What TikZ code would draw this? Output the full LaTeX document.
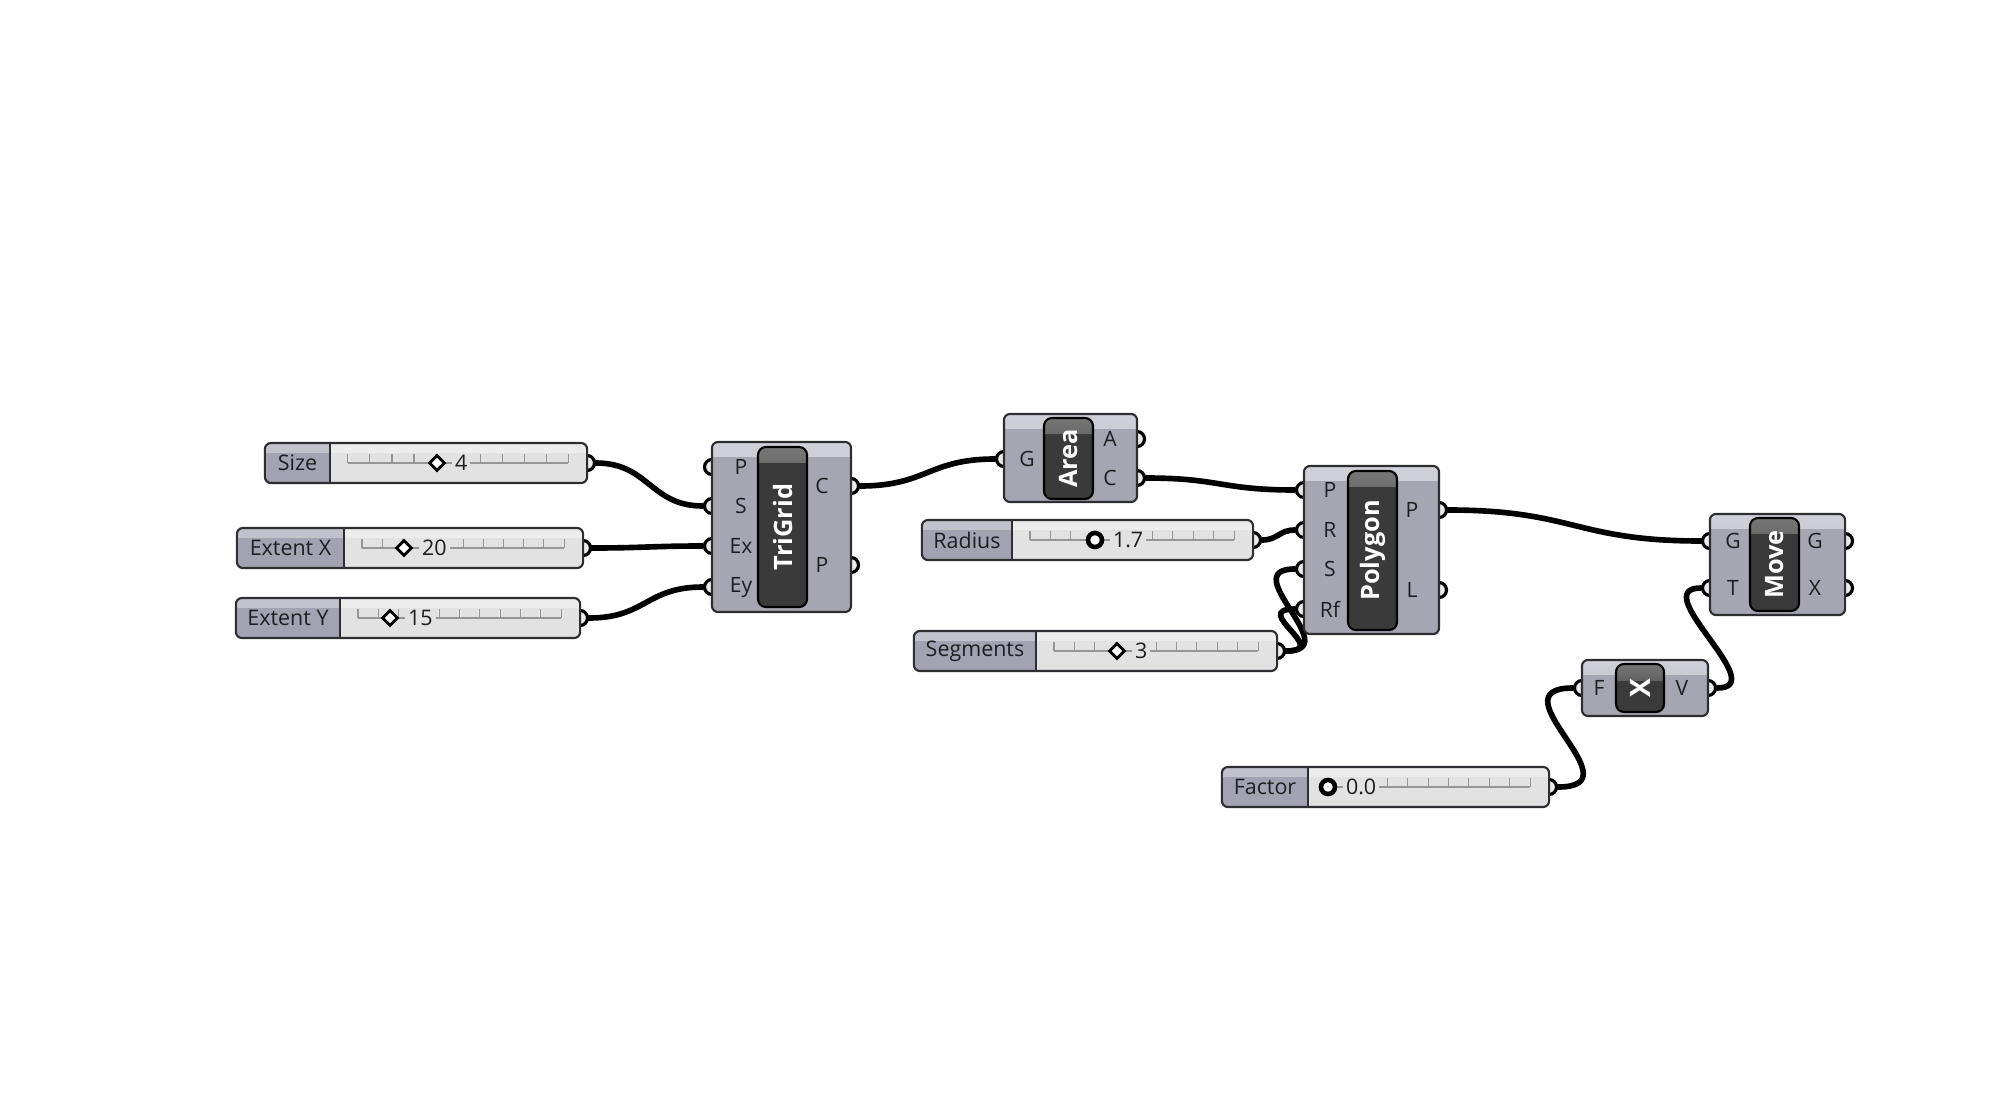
\documentclass[tikz,border=0pt]{standalone}
\usepackage{fontspec}
\setmainfont{Open Sans}
\usepackage{tikz}
\usetikzlibrary{shapes.geometric, positioning, backgrounds, calc}
\definecolor{lineC}{RGB}{45,45,50}
\definecolor{bodyC}{RGB}{166,166,178}
\definecolor{bandC}{RGB}{208,208,216}
\definecolor{coreC}{RGB}{58,58,58}
\definecolor{coreHi}{RGB}{118,118,118}
\definecolor{labC}{RGB}{162,162,178}
\definecolor{trackC}{RGB}{226,226,226}
\definecolor{tickC}{RGB}{150,150,150}
\definecolor{portC}{RGB}{236,236,236}
\definecolor{textC}{RGB}{30,30,34}
\tikzset{
    comp/.style={rectangle, rounded corners=0.6mm, draw=lineC, line width=0.6pt,
                 fill=bodyC, inner sep=0pt,
                 path picture={\shade[sharp corners, top color=bandC, bottom color=bandC!60!bodyC]
                   (path picture bounding box.north west) rectangle ([yshift=-1.5mm]path picture bounding box.north east);}},
    core/.style={rectangle, rounded corners=0.8mm, draw=black, line width=0.6pt,
                 fill=coreC, inner sep=0pt,
                 path picture={\shade[sharp corners, top color=coreHi, bottom color=coreC]
                   (path picture bounding box.north west) rectangle ([yshift=-1.6mm]path picture bounding box.north east);}},
    corelab/.style={text=white, font=\fontsize{7.2}{8}\selectfont\bfseries, rotate=90, inner sep=0pt},
    plab/.style={text=textC, font=\fontsize{6}{7}\selectfont, inner sep=0pt},
    port/.style={circle, draw=black, line width=0.9pt, fill=portC, minimum size=1.5mm, inner sep=0pt},
    slider/.style={rectangle, rounded corners=0.6mm, draw=lineC, line width=0.6pt,
                 fill=trackC, minimum height=4mm, inner sep=0pt,
                 path picture={
                   \fill[sharp corners, labC] (path picture bounding box.south west) rectangle ([xshift=#1]path picture bounding box.north west);
                   \fill[sharp corners, white, opacity=0.35] (path picture bounding box.north west) rectangle ([yshift=-1mm]path picture bounding box.north east);
                   \draw[sharp corners, lineC, line width=0.6pt] ([xshift=#1]path picture bounding box.south west) -- ([xshift=#1]path picture bounding box.north west);
                   \draw[sharp corners, tickC, line width=0.3pt] ([xshift=#1+1.8mm]path picture bounding box.west) -- ([xshift=-1.9mm]path picture bounding box.east);
                   \foreach \k in {0,...,10}
                     \draw[sharp corners, tickC, line width=0.3pt] ($([xshift=#1+1.8mm]path picture bounding box.west)!\k/10!([xshift=-1.9mm]path picture bounding box.east)$) -- ++(0,0.9mm);
                 }},
    slab/.style={text=textC, font=\fontsize{6.1}{7}\selectfont, inner sep=0pt},
    sval/.style={text=textC, font=\fontsize{6.1}{7}\selectfont, fill=trackC, inner xsep=0.3mm, inner ysep=0.1mm},
    knob/.style={diamond, draw=black, line width=0.8pt, fill=white, minimum size=1.6mm, inner sep=0pt},
    ring/.style={circle, draw=black, line width=1.3pt, fill=white, minimum size=1.4mm, inner sep=0pt},
    wire/.style={line width=1.6pt, draw=black, line cap=round}
}

\begin{document}
\begin{tikzpicture}[x=0.01cm, y=-0.01cm]
\useasboundingbox (0,0) rectangle (1996,1118);

% number sliders
\node[port] (sizeO)   at (587,463)  {};
\node[port] (extXO)   at (583,548)  {};
\node[port] (extYO)   at (580,618)  {};
\node[port] (radiusO) at (1253,540) {};
\node[port] (segsO)   at (1277,651) {};
\node[port] (factorO) at (1549,787) {};

\node[slider=6.5mm,  minimum width=32.2mm] (size)   at (426,463)    {};
\node[slider=10.7mm, minimum width=34.6mm] (extX)   at (410,548)    {};
\node[slider=10.4mm, minimum width=34.4mm] (extY)   at (408,618)    {};
\node[slider=9mm,    minimum width=33.1mm] (radius) at (1087.5,540) {};
\node[slider=12.2mm, minimum width=36.3mm] (segs)   at (1095.5,651) {};
\node[slider=8.6mm,  minimum width=32.7mm] (factor) at (1385.5,787) {};

\node[slab] (sizeL)   at (297.5,463) {Size};
\node[slab] (extXL)   at (290.5,548) {Extent X};
\node[slab] (extYL)   at (288,618)   {Extent Y};
\node[slab] (radiusL) at (967,540)   {Radius};
\node[slab] (segsL)   at (975,651)   {Segments};
\node[slab] (factorL) at (1265,787)  {Factor};

\node[knob] (sizeK)   at (437,463)  {};
\node[knob] (extXK)   at (404,548)  {};
\node[knob] (extYK)   at (390,618)  {};
\node[ring] (radiusK) at (1095,540) {};
\node[knob] (segsK)   at (1117,651) {};
\node[ring] (factorK) at (1328,787) {};

\node[sval, right=0.5mm of sizeK]   (sizeV)   {4};
\node[sval, right=0.5mm of extXK]   (extXV)   {20};
\node[sval, right=0.5mm of extYK]   (extYV)   {15};
\node[sval, right=0.5mm of radiusK] (radiusV) {1.7};
\node[sval, right=0.5mm of segsK]   (segsV)   {3};
\node[sval, right=0.5mm of factorK] (factorV) {0.0};

% TriGrid
\foreach \n/\y in {P/467, S/506, Ex/546, Ey/587} \node[port] (tg\n) at (712,\y) {};
\foreach \n/\y in {C/486, Po/565} \node[port] (tg\n) at (851,\y) {};
\node[comp, minimum width=13.9mm, minimum height=17mm] (trigrid) at (781.5,527) {};
\node[core, minimum width=4.9mm, minimum height=16mm] (trigridK) at (782.5,527) {};
\node[corelab] (trigridN) at (trigridK) {TriGrid};
\foreach \n/\y in {P/467, S/506, Ex/546, Ey/587} \node[plab] (tg\n L) at (741,\y) {\n};
\node[plab] (tgCL)  at (822,486) {C};
\node[plab] (tgPoL) at (822,565) {P};

% Area
\node[port] (areaG) at (1004,459) {};
\node[port] (areaA) at (1137,439) {};
\node[port] (areaC) at (1137,478) {};
\node[comp, minimum width=13.3mm, minimum height=8.8mm] (area) at (1070.5,458) {};
\node[core, minimum width=4.9mm, minimum height=8.1mm] (areaK) at (1068.5,458.5) {};
\node[corelab] (areaN) at (areaK) {Area};
\node[plab] (areaGL) at (1027,459) {G};
\node[plab] (areaAL) at (1110,439) {A};
\node[plab] (areaCL) at (1110,478) {C};

% Polygon
\foreach \n/\y in {P/490, R/530, S/569, Rf/609} \node[port] (poly\n) at (1304,\y) {};
\foreach \n/\y in {Po/510, L/590} \node[port] (poly\n) at (1439,\y) {};
\node[comp, minimum width=13.5mm, minimum height=16.8mm] (polygon) at (1371.5,550) {};
\node[core, minimum width=4.9mm, minimum height=15.9mm] (polygonK) at (1372.5,550.5) {};
\node[corelab] (polygonN) at (polygonK) {Polygon};
\foreach \n/\y in {P/490, R/530, S/569, Rf/609} \node[plab] (poly\n L) at (1330,\y) {\n};
\node[plab] (polyPoL) at (1412,510) {P};
\node[plab] (polyLL)  at (1412,590) {L};

% Move
\node[port] (moveG)  at (1710,541) {};
\node[port] (moveT)  at (1710,588) {};
\node[port] (moveGo) at (1845,541) {};
\node[port] (moveX)  at (1845,588) {};
\node[comp, minimum width=13.5mm, minimum height=10.1mm] (move) at (1777.5,564.5) {};
\node[core, minimum width=4.9mm, minimum height=9.3mm] (moveK) at (1774.5,564.5) {};
\node[corelab] (moveN) at (moveK) {Move};
\node[plab] (moveGL)  at (1733,541) {G};
\node[plab] (moveTL)  at (1733,588) {T};
\node[plab] (moveGoL) at (1815,541) {G};
\node[plab] (moveXL)  at (1815,588) {X};

% Amplitude factor (X)
\node[port] (multF) at (1582,688) {};
\node[port] (multV) at (1708,688) {};
\node[comp, minimum width=12.6mm, minimum height=5.6mm] (mult) at (1645,688) {};
\node[core, minimum width=4.8mm, minimum height=4.8mm] (multK) at (1640,688) {};
\node[corelab, font=\fontsize{8}{9}\selectfont\bfseries] (multN) at (multK) {X};
\node[plab] (multFL) at (1599,688) {F};
\node[plab] (multVL) at (1682,688) {V};

% wires
\begin{scope}[on background layer]
\draw[wire] (sizeO)   .. controls +(62,0)  and +(-62,0)  .. (tgS);
\draw[wire] (extXO)   .. controls +(60,0)  and +(-60,0)  .. (tgEx);
\draw[wire] (extYO)   .. controls +(66,0)  and +(-66,0)  .. (tgEy);
\draw[wire] (tgC)     .. controls +(76,0)  and +(-76,0)  .. (areaG);
\draw[wire] (areaC)   .. controls +(83,0)  and +(-83,0)  .. (polyP);
\draw[wire] (radiusO) .. controls +(25,0)  and +(-25,0)  .. (polyR);
\draw[wire] (segsO)   .. controls +(70,0)  and +(-70,0)  .. (polyS);
\draw[wire] (segsO)   .. controls +(55,0)  and +(-55,0)  .. (polyRf);
\draw[wire] (polyPo)  .. controls +(135,0) and +(-135,0) .. (moveG);
\draw[wire] (multV)   .. controls +(65,0)  and +(-65,0)  .. (moveT);
\draw[wire] (factorO) .. controls +(90,0)  and +(-90,0)  .. (multF);
\end{scope}
\end{tikzpicture}
\end{document}
